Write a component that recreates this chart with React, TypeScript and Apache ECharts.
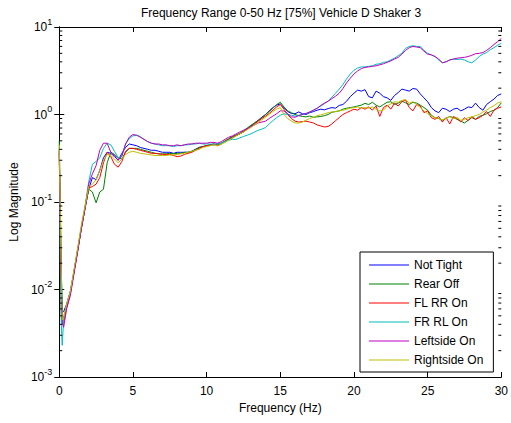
import React, { useEffect, useRef } from "react";
import * as echarts from "echarts";

const titleText = "Frequency Range 0-50 Hz [75%] Vehicle D Shaker 3";
const xName = "Frequency (Hz)";
const yName = "Log Magnitude";
const seriesNames = ["Not Tight", "Rear Off", "FL RR On", "FR RL On", "Leftside On", "Rightside On"];
const seriesColors = ["#0000FF", "#008000", "#FF0000", "#00BFBF", "#BF00BF", "#BFBF00"];
const xTicks = [0, 5, 10, 15, 20, 25, 30];
const yMinorTicks = [
  0.002, 0.003, 0.004, 0.005, 0.006, 0.007, 0.008, 0.009,
  0.02, 0.03, 0.04, 0.05, 0.06, 0.07, 0.08, 0.09,
  0.2, 0.3, 0.4, 0.5, 0.6, 0.7, 0.8, 0.9,
  2, 3, 4, 5, 6, 7, 8, 9,
];

const freqs = [
  0, 0.1, 0.2, 0.3, 0.5, 0.75, 1, 1.25, 1.5, 1.75, 2,
  2.25, 2.5, 2.75, 3, 3.25, 3.5, 3.75, 4, 4.25, 4.5, 4.75, 5,
  5.25, 5.5, 5.75, 6, 6.25, 6.5, 6.75, 7, 7.25, 7.5, 7.75, 8, 8.25, 8.5, 8.75, 9, 9.25, 9.5, 9.75, 10,
  10.25, 10.5, 10.75, 11, 11.25, 11.5, 11.75, 12, 12.25, 12.5, 12.75, 13, 13.25, 13.5, 13.75, 14, 14.25, 14.5, 14.75, 15,
  15.25, 15.5, 15.75, 16, 16.25, 16.5, 16.75, 17, 17.25, 17.5, 17.75, 18, 18.25, 18.5, 18.75, 19, 19.25, 19.5, 19.75, 20,
  20.25, 20.5, 20.75, 21, 21.25, 21.5, 21.75, 22, 22.25, 22.5, 22.75, 23, 23.25, 23.5, 23.75, 24, 24.25, 24.5, 24.75, 25,
  25.25, 25.5, 25.75, 26, 26.25, 26.5, 26.75, 27, 27.25, 27.5, 27.75, 28, 28.25, 28.5, 28.75, 29, 29.25, 29.5, 29.75, 30,
];

const notTight = [
  0.38, 0.03, 0.0055, 0.0056, 0.0068, 0.0095, 0.016, 0.028, 0.05, 0.085, 0.14,
  0.19, 0.18, 0.23, 0.32, 0.37, 0.36, 0.33, 0.30, 0.36, 0.42, 0.46, 0.45,
  0.44, 0.42, 0.41, 0.40, 0.39, 0.39, 0.38, 0.37, 0.37, 0.37, 0.36, 0.37, 0.37, 0.37, 0.37, 0.38, 0.40, 0.42, 0.43, 0.44,
  0.45, 0.45, 0.46, 0.47, 0.49, 0.52, 0.55, 0.58, 0.60, 0.63, 0.68, 0.74, 0.80, 0.86, 0.93, 1.0, 1.1, 1.2, 1.28, 1.32,
  1.2, 1.08, 1.03, 1.02, 1.07, 1.02, 1.0, 1.05, 1.08, 1.12, 1.15, 1.13, 1.17, 1.2, 1.18, 1.27, 1.3, 1.42, 1.6, 1.75,
  1.9, 1.85, 1.92, 1.6, 1.55, 1.85, 1.75, 1.6, 1.55, 1.45, 1.65, 1.78, 1.95, 1.9, 1.85, 1.98, 1.95, 1.72, 1.55, 1.4,
  1.2, 1.1, 1.05, 1.18, 1.15, 1.08, 1.15, 1.18, 1.1, 1.15, 1.22, 1.2, 1.35, 1.2, 1.12, 1.3, 1.4, 1.5, 1.65, 1.72,
];

const rearOff = [
  0.5, 0.05, 0.0045, 0.0048, 0.0065, 0.009, 0.016, 0.028, 0.05, 0.085, 0.14,
  0.13, 0.098, 0.13, 0.14, 0.28, 0.37, 0.35, 0.32, 0.31, 0.37, 0.41, 0.41,
  0.41, 0.40, 0.39, 0.38, 0.37, 0.36, 0.355, 0.355, 0.355, 0.36, 0.355, 0.36, 0.36, 0.37, 0.37, 0.38, 0.40, 0.42, 0.43, 0.44,
  0.45, 0.46, 0.45, 0.47, 0.50, 0.53, 0.56, 0.58, 0.61, 0.65, 0.70, 0.75, 0.80, 0.85, 0.92, 1.0, 1.08, 1.18, 1.3, 1.38,
  1.22, 1.1, 1.05, 1.0, 0.97, 0.95, 0.94, 0.96, 0.93, 0.94, 0.95, 0.97, 1.0, 1.06, 1.08, 1.1, 1.15, 1.18, 1.2, 1.22,
  1.25, 1.28, 1.34, 1.3, 1.38, 1.28, 1.22, 1.3, 1.38, 1.4, 1.3, 1.35, 1.42, 1.36, 1.3, 1.38, 1.35, 1.28, 1.2, 1.12,
  0.98, 0.92, 0.9, 0.86, 0.9, 0.95, 0.92, 0.88, 0.84, 0.8, 0.86, 0.92, 0.88, 0.95, 0.98, 1.02, 1.08, 1.12, 1.2, 1.36,
];

const flRrOn = [
  0.36, 0.02, 0.004, 0.0042, 0.0062, 0.009, 0.016, 0.028, 0.05, 0.085, 0.145,
  0.15, 0.16, 0.19, 0.28, 0.37, 0.33, 0.27, 0.25, 0.29, 0.38, 0.41, 0.41,
  0.40, 0.39, 0.38, 0.37, 0.36, 0.36, 0.355, 0.35, 0.35, 0.35, 0.34, 0.33, 0.335, 0.35, 0.36, 0.37, 0.39, 0.41, 0.43, 0.44,
  0.45, 0.46, 0.44, 0.46, 0.49, 0.52, 0.54, 0.57, 0.6, 0.64, 0.68, 0.72, 0.78, 0.84, 0.9, 0.96, 1.03, 1.12, 1.22, 1.3,
  1.15, 1.0, 0.9, 0.84, 0.82, 0.83, 0.84, 0.82, 0.8, 0.76, 0.74, 0.72, 0.73, 0.78, 0.85, 0.92, 1.0, 1.05, 1.1, 1.15,
  1.12, 1.2, 1.15, 1.22, 1.12, 1.25, 0.95, 1.2, 1.28, 1.15, 1.35, 1.25, 1.4, 1.47, 1.2, 1.1, 1.3, 1.25, 1.05, 1.1,
  0.92, 0.88, 0.95, 0.82, 0.92, 0.78, 0.95, 0.9, 0.82, 0.92, 0.85, 0.95, 0.88, 0.92, 0.98, 1.08, 0.95, 1.12, 1.18, 1.22,
];

const frRlOn = [
  0.42, 0.006, 0.0023, 0.0045, 0.0068, 0.0095, 0.016, 0.029, 0.052, 0.09, 0.17,
  0.27, 0.29, 0.32, 0.41, 0.47, 0.45, 0.38, 0.32, 0.33, 0.46, 0.53, 0.57,
  0.58, 0.56, 0.52, 0.49, 0.47, 0.46, 0.45, 0.44, 0.44, 0.44, 0.43, 0.44, 0.44, 0.45, 0.45, 0.46, 0.46, 0.47, 0.46, 0.46,
  0.46, 0.46, 0.46, 0.47, 0.49, 0.51, 0.52, 0.52, 0.54, 0.56, 0.58, 0.60, 0.63, 0.66, 0.68, 0.71, 0.78, 0.85, 0.92, 0.98,
  1.02, 1.0, 0.98, 0.96, 0.98, 1.0, 1.02, 1.06, 1.12, 1.18, 1.25, 1.33, 1.42, 1.58, 1.75, 1.95, 2.2, 2.55, 2.9, 3.2,
  3.4, 3.5, 3.5, 3.55, 3.6, 3.75, 3.8, 3.95, 4.0, 4.2, 4.4, 4.7, 5.0, 5.7, 6.0, 6.1, 6.0, 6.0, 5.4, 5.0,
  4.8, 4.6, 4.2, 3.9, 4.0, 4.2, 4.3, 4.25, 4.3, 4.2, 4.0, 3.9, 4.2, 4.6, 4.9, 5.1, 5.5, 5.8, 6.2, 6.5,
];

const leftsideOn = [
  0.4, 0.02, 0.0042, 0.0037, 0.006, 0.0085, 0.015, 0.027, 0.05, 0.085, 0.16,
  0.21, 0.26, 0.39, 0.47, 0.47, 0.37, 0.34, 0.30, 0.34, 0.46, 0.55, 0.59,
  0.58, 0.55, 0.52, 0.49, 0.47, 0.46, 0.46, 0.45, 0.45, 0.44, 0.44, 0.45, 0.44, 0.45, 0.46, 0.46, 0.47, 0.47, 0.47, 0.47,
  0.48, 0.48, 0.47, 0.49, 0.52, 0.55, 0.57, 0.60, 0.63, 0.66, 0.69, 0.72, 0.76, 0.80, 0.82, 0.84, 0.9, 0.96, 1.02, 1.1,
  1.1, 1.02, 0.94, 0.93, 0.97, 1.0, 1.03, 1.07, 1.12, 1.18, 1.27, 1.35, 1.42, 1.52, 1.62, 1.75, 1.98, 2.3, 2.6, 2.9,
  3.15, 3.35, 3.45, 3.5, 3.55, 3.6, 3.7, 3.8, 3.95, 4.1, 4.3, 4.5, 4.9, 5.4, 5.8, 6.0, 5.9, 5.8, 5.3, 4.9,
  4.8, 4.6, 4.3, 3.9, 4.0, 4.2, 4.3, 4.4, 4.45, 4.5, 4.6, 4.75, 4.95, 5.0, 5.1, 5.4, 5.8, 6.3, 6.8, 7.4,
];

const rightsideOn = [
  0.45, 0.04, 0.0045, 0.0048, 0.0068, 0.0095, 0.017, 0.03, 0.055, 0.09, 0.15,
  0.16, 0.18, 0.23, 0.30, 0.35, 0.34, 0.31, 0.28, 0.31, 0.35, 0.37, 0.38,
  0.37, 0.36, 0.355, 0.35, 0.345, 0.34, 0.34, 0.34, 0.34, 0.345, 0.345, 0.35, 0.355, 0.36, 0.37, 0.38, 0.39, 0.40, 0.42, 0.43,
  0.44, 0.45, 0.44, 0.46, 0.48, 0.51, 0.54, 0.57, 0.6, 0.63, 0.67, 0.71, 0.76, 0.81, 0.87, 0.93, 1.0, 1.08, 1.15, 1.2,
  1.0, 0.9, 0.84, 0.8, 0.8, 0.82, 0.86, 0.9, 0.93, 0.97, 0.99, 1.02, 1.05, 1.07, 1.08, 1.1, 1.12, 1.15, 1.18, 1.2,
  1.22, 1.18, 1.2, 1.18, 1.22, 1.15, 1.1, 1.12, 1.25, 1.32, 1.4, 1.38, 1.45, 1.48, 1.35, 1.4, 1.3, 1.2, 1.1, 1.02,
  0.96, 0.92, 0.9, 0.87, 0.9, 0.94, 0.9, 0.92, 0.86, 0.88, 0.92, 0.94, 0.97, 1.0, 1.07, 1.12, 1.2, 1.26, 1.35, 1.4,
];

const seriesValues = [notTight, rearOff, flRrOn, frRlOn, leftsideOn, rightsideOn];

const FONT = "'Liberation Sans', Arial, sans-serif";
// thin horizontal line centred in a 40x14 box (zero-area corner marks keep the box size)
const LEGEND_LINE_ICON =
  "path://M0,0L0.01,0L0.01,0.01ZM0,6.5L40,6.5L40,7.5L0,7.5ZM39.99,14L40,14L40,13.99Z";

export default function App() {
  const ref = useRef<HTMLDivElement>(null);

  useEffect(() => {
    if (!ref.current) return;
    const chart = echarts.init(ref.current, null, { renderer: "svg" });
    const xMin = xTicks[0];
    const xMax = xTicks[xTicks.length - 1];

    const lineSeries = seriesNames.map((name, si) => ({
      name,
      type: "line",
      xAxisIndex: 0,
      yAxisIndex: 0,
      data: freqs.map((f, i) => [f, seriesValues[si][i]]),
      symbol: "none",
      showSymbol: false,
      lineStyle: { width: 1, color: seriesColors[si] },
      itemStyle: { color: seriesColors[si] },
      emphasis: { disabled: true },
      clip: true,
    }));

    const minorTickSeries = {
      type: "custom",
      xAxisIndex: 0,
      yAxisIndex: 0,
      silent: true,
      clip: false,
      z: 5,
      data: yMinorTicks.map((v) => [xMin, v]),
      renderItem: (params: any, api: any) => {
        const v = api.value(1);
        const l = api.coord([xMin, v]);
        const r = api.coord([xMax, v]);
        return {
          type: "group",
          children: [
            { type: "line", shape: { x1: l[0], y1: l[1], x2: l[0] + 3, y2: l[1] }, style: { stroke: "#000", lineWidth: 1 } },
            { type: "line", shape: { x1: r[0] - 3, y1: r[1], x2: r[0], y2: r[1] }, style: { stroke: "#000", lineWidth: 1 } },
          ],
        };
      },
    };

    const axisLine = { show: true, lineStyle: { color: "#000", width: 1 } };
    const axisTick = { show: true, inside: true, length: 5, lineStyle: { color: "#000", width: 1 } };

    chart.setOption({
      animation: false,
      backgroundColor: "#fff",
      textStyle: { fontFamily: FONT },
      grid: { left: 58, right: 9, top: 27, bottom: 46, containLabel: false },
      graphic: [
        {
          type: "text",
          x: 281,
          y: 13,
          style: {
            text: titleText,
            fontSize: 12,
            fontFamily: FONT,
            fill: "#000",
            textAlign: "center",
            textVerticalAlign: "middle",
          },
        },
      ],
      legend: {
        data: seriesNames.map((name) => ({ name, icon: LEGEND_LINE_ICON })),
        orient: "vertical",
        left: 360,
        top: 252,
        padding: [6, 10, 5, 9],
        itemWidth: 40,
        itemHeight: 14,
        itemGap: 5,
        backgroundColor: "#fff",
        borderColor: "#000",
        borderWidth: 1,
        borderRadius: 0,
        textStyle: { fontSize: 12, color: "#000", fontFamily: FONT },
        selectedMode: false,
      },
      xAxis: [
        {
          type: "value",
          position: "bottom",
          min: xMin,
          max: xMax,
          interval: 5,
          axisLine,
          axisTick,
          splitLine: { show: false },
          axisLabel: { color: "#000", fontSize: 12, margin: 8, fontFamily: FONT },
          name: xName,
          nameLocation: "middle",
          nameGap: 24,
          nameTextStyle: { color: "#000", fontSize: 12, fontFamily: FONT },
        },
        {
          type: "value",
          position: "top",
          min: xMin,
          max: xMax,
          interval: 5,
          axisLine,
          axisTick,
          splitLine: { show: false },
          axisLabel: { show: false },
        },
      ],
      yAxis: [
        {
          type: "log",
          logBase: 10,
          position: "left",
          min: 0.001,
          max: 10,
          axisLine,
          axisTick,
          splitLine: { show: false },
          minorTick: { show: false },
          axisLabel: {
            margin: 7,
            formatter: (v: number) => `{b|10}{s|${Math.round(Math.log10(v))}}`,
            rich: {
              b: { fontSize: 12, color: "#000", fontFamily: FONT, lineHeight: 20 },
              s: { fontSize: 9, color: "#000", fontFamily: FONT, verticalAlign: "top" },
            },
          },
          name: yName,
          nameLocation: "middle",
          nameGap: 36,
          nameRotate: 90,
          nameTextStyle: { color: "#000", fontSize: 12, fontFamily: FONT },
        },
        {
          type: "log",
          logBase: 10,
          position: "right",
          min: 0.001,
          max: 10,
          axisLine,
          axisTick,
          splitLine: { show: false },
          axisLabel: { show: false },
        },
      ],
      series: [...lineSeries, minorTickSeries],
    });

    return () => chart.dispose();
  }, []);

  return (
    <div
      ref={ref}
      style={{ position: "absolute", left: 0, top: 0, width: 511, height: 423, background: "#fff" }}
    />
  );
}
